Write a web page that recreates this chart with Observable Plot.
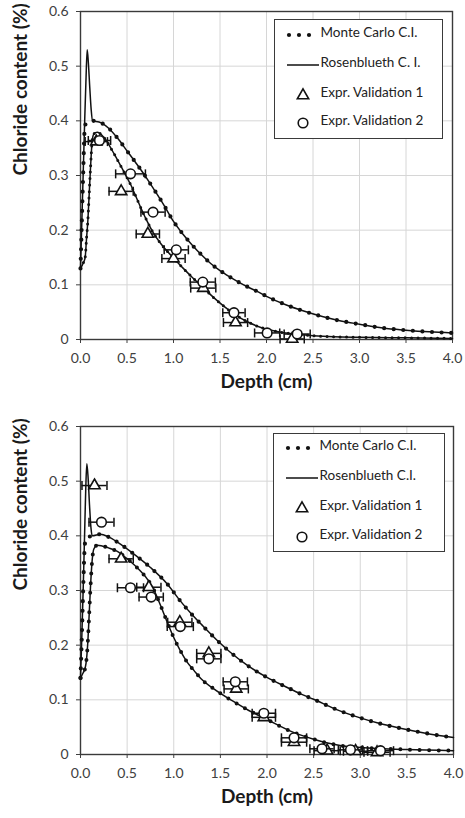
<!DOCTYPE html>
<html>
<head>
<meta charset="utf-8">
<script src="https://cdn.jsdelivr.net/npm/d3@7"></script>
<script src="https://cdn.jsdelivr.net/npm/@observablehq/plot@0.6"></script>
<style>
html,body{margin:0;padding:0;background:#fff;}
body{width:465px;height:818px;overflow:hidden;font-family:Lato,sans-serif;}
.panel{position:relative;width:465px;height:409px;}
.panel svg.plot{display:block;}
.legend{position:absolute;border:1.5px solid #3a3a3a;background:#fff;box-sizing:border-box;}
.row{position:absolute;left:0;height:22px;width:100%;}
.row svg{position:absolute;left:0;top:0;}
.row span{position:absolute;top:0;line-height:22px;font:13.5px Lato,sans-serif;color:#222;white-space:nowrap;}
</style>
</head>
<body>
<div id="a" class="panel"></div>
<div id="b" class="panel"></div>
<script>
// ---- axes ----
const xTicks = [0, 0.5, 1, 1.5, 2, 2.5, 3, 3.5, 4];
const yTicks = [0, 0.1, 0.2, 0.3, 0.4, 0.5, 0.6];
const xTitle = "Depth (cm)";
const yTitle = "Chloride content (%)";
const labelsA = ["Monte Carlo C.I.", "Rosenblueth C. I.", "Expr. Validation 1", "Expr. Validation 2"];
const labelsB = ["Monte Carlo C.I.", "Rosenblueth C.I.", "Expr. Validation 1", "Expr. Validation 2"];

// ---- panel A (top): confidence bounds [depth, chloride] ----
const aRiseMC  = [[0,0.13],[0.015,0.22],[0.03,0.31],[0.045,0.385],[0.06,0.396],[0.09,0.398]];
const aRiseRos = [[0,0.13],[0.015,0.22],[0.03,0.31],[0.045,0.40],[0.058,0.47],[0.072,0.53],[0.085,0.505],[0.1,0.46],[0.115,0.42]];
const aUpperTail = [[0.13,0.40],[0.2,0.398],[0.3,0.387],[0.4,0.368],[0.5,0.345],[0.6,0.322],[0.7,0.298],[0.8,0.272],[0.9,0.245],[1.0,0.216],[1.1,0.193],[1.2,0.173],[1.3,0.155],[1.4,0.139],[1.5,0.126],[1.6,0.115],[1.7,0.105],[1.8,0.096],[1.9,0.088],[2.0,0.079],[2.2,0.064],[2.4,0.052],[2.6,0.042],[2.8,0.034],[3.0,0.028],[3.25,0.021],[3.5,0.017],[3.75,0.014],[4.0,0.012]];
const aLower = [[0,0.13],[0.03,0.14],[0.05,0.15],[0.065,0.185],[0.08,0.22],[0.09,0.254],[0.108,0.315],[0.125,0.362],[0.143,0.376],[0.18,0.379],[0.25,0.37],[0.36,0.34],[0.45,0.312],[0.54,0.283],[0.62,0.252],[0.7,0.222],[0.78,0.196],[0.86,0.176],[0.94,0.16],[1.0,0.149],[1.1,0.131],[1.2,0.114],[1.32,0.095],[1.43,0.077],[1.54,0.061],[1.65,0.047],[1.8,0.032],[1.94,0.022],[2.1,0.015],[2.29,0.01],[2.5,0.007],[2.72,0.005],[3.0,0.004],[3.5,0.003],[4.0,0.002]];
// experiments
const aExp1X = [0.17, 0.437, 0.724, 1.0, 1.32, 1.667, 2.276];
const aExp1Y = [0.362, 0.271, 0.193, 0.148, 0.094, 0.031, 0.001];
const aExp1E = [0.12, 0.13, 0.125, 0.125, 0.135, 0.13, 0.13];
const aExp2X = [0.204, 0.538, 0.78, 1.03, 1.315, 1.65, 2.007, 2.33];
const aExp2Y = [0.364, 0.303, 0.233, 0.164, 0.105, 0.049, 0.012, 0.010];
const aExp2E = [0.12, 0.16, 0.13, 0.13, 0.135, 0.12, 0.135, 0.14];

// ---- panel B (bottom) ----
const bRiseMC  = [[0,0.14],[0.015,0.22],[0.03,0.31],[0.045,0.38],[0.055,0.394],[0.09,0.398]];
const bRiseRos = [[0,0.14],[0.015,0.22],[0.03,0.31],[0.045,0.41],[0.057,0.49],[0.068,0.532],[0.082,0.505],[0.097,0.455],[0.112,0.415]];
const bUpperTail = [[0.125,0.40],[0.215,0.403],[0.3,0.398],[0.4,0.388],[0.57,0.367],[0.75,0.342],[0.93,0.312],[1.07,0.281],[1.2,0.255],[1.29,0.239],[1.47,0.208],[1.6,0.188],[1.79,0.163],[2.0,0.141],[2.2,0.124],[2.36,0.111],[2.5,0.101],[2.72,0.084],[3.0,0.067],[3.2,0.057],[3.43,0.048],[3.7,0.039],[4.0,0.031]];
const bLower = [[0,0.14],[0.03,0.15],[0.05,0.158],[0.065,0.175],[0.08,0.21],[0.09,0.245],[0.107,0.306],[0.125,0.355],[0.143,0.376],[0.18,0.383],[0.3,0.378],[0.39,0.372],[0.5,0.358],[0.64,0.336],[0.72,0.32],[0.79,0.30],[0.86,0.272],[0.93,0.242],[1.0,0.214],[1.07,0.19],[1.14,0.17],[1.22,0.153],[1.29,0.139],[1.43,0.12],[1.64,0.097],[1.8,0.081],[2.0,0.064],[2.29,0.04],[2.5,0.028],[2.65,0.021],[2.8,0.016],[3.0,0.013],[3.5,0.009],[4.0,0.007]];
const bExp1X = [0.15, 0.436, 0.733, 1.065, 1.376, 1.67, 1.966, 2.29, 2.645, 2.95, 3.18];
const bExp1Y = [0.492, 0.358, 0.306, 0.242, 0.185, 0.12, 0.068, 0.0225, 0.007, 0.006, 0.004];
const bExp1E = [0.134, 0.13, 0.13, 0.13, 0.13, 0.13, 0.125, 0.135, 0.14, 0.13, 0.14];
const bExp2X = [0.225, 0.536, 0.758, 1.07, 1.376, 1.66, 1.966, 2.29, 2.59, 2.895, 3.217];
const bExp2Y = [0.425, 0.305, 0.288, 0.234, 0.175, 0.133, 0.0755, 0.0305, 0.0104, 0.0085, 0.007];
const bExp2E = [0.134, 0.14, 0.13, 0.14, 0.13, 0.13, 0.125, 0.135, 0.13, 0.13, 0.14];

const INK = "#111";
const zip = (xs, ys, es) => xs.map((x, i) => ({x, y: ys[i], e: es[i]}));
const capSymbol = {draw(ctx, size) { const r = Math.sqrt(size / Math.PI); ctx.moveTo(0, -r); ctx.lineTo(0, r); }};

function errMarks(data, symbol, r) {
  return [
    Plot.ruleY(data, {y: "y", x1: d => d.x - d.e, x2: d => d.x + d.e, stroke: INK, strokeWidth: 1.5}),
    Plot.dot(data, {x: d => d.x - d.e, y: "y", symbol: capSymbol, r: 4.5, stroke: INK, strokeWidth: 1.5, fill: "none"}),
    Plot.dot(data, {x: d => d.x + d.e, y: "y", symbol: capSymbol, r: 4.5, stroke: INK, strokeWidth: 1.5, fill: "none"}),
    Plot.dot(data, {x: "x", y: "y", symbol, r, fill: "white", stroke: INK, strokeWidth: 1.6})
  ];
}

function panel(el, cfg) {
  const upperMC = cfg.riseMC.concat(cfg.upperTail);
  const upperRos = cfg.riseRos.concat(cfg.upperTail);
  const X = d => d[0], Y = d => d[1];
  const svg = Plot.plot({
    width: 465, height: 409,
    marginLeft: 80, marginRight: cfg.mr, marginTop: cfg.mt, marginBottom: cfg.mb,
    style: {fontFamily: "Lato, sans-serif", fontSize: "14px", color: "#404040", background: "white"},
    x: {domain: [0, 4]},
    y: {domain: [0, 0.6]},
    marks: [
      Plot.gridX({ticks: xTicks, stroke: "#d6d6d6", strokeOpacity: 1, strokeWidth: 1}),
      Plot.gridY({ticks: yTicks, stroke: "#d6d6d6", strokeOpacity: 1, strokeWidth: 1}),
      Plot.axisX({ticks: xTicks, tickSize: 4, tickPadding: 10, label: null, tickFormat: d => d.toFixed(1), fontSize: 14}),
      Plot.axisY({ticks: yTicks, tickSize: 4, tickPadding: 8, label: null, tickFormat: d => d === 0 ? "0" : d.toFixed(1), fontSize: 14}),
      Plot.frame({stroke: "#3a3a3a", strokeWidth: 1.4}),
      // Rosenblueth (solid)
      Plot.line(upperRos, {x: X, y: Y, curve: "monotone-x", stroke: INK, strokeWidth: 1.5}),
      Plot.line(cfg.lower, {x: X, y: Y, curve: "monotone-x", stroke: INK, strokeWidth: 1.5}),
      // Monte Carlo (dots)
      Plot.line(upperMC, {x: X, y: Y, curve: "monotone-x", stroke: INK, strokeWidth: 4.2, strokeLinecap: "round", strokeDasharray: "0,9.6"}),
      Plot.line(cfg.lower, {x: X, y: Y, curve: "monotone-x", stroke: INK, strokeWidth: cfg.lowDot, strokeLinecap: "round", strokeDasharray: cfg.lowDash}),
      ...errMarks(cfg.exp1, "triangle", 4.2),
      ...errMarks(cfg.exp2, "circle", 4.8),
      Plot.text([xTitle], {frameAnchor: "bottom", dy: 48, fontWeight: "bold", fontSize: 19, fill: "#1a1a1a"}),
      Plot.text([yTitle], {frameAnchor: "left", dx: -60, rotate: -90, fontWeight: "bold", fontSize: 19, fill: "#1a1a1a"})
    ]
  });
  svg.classList.add("plot");
  el.appendChild(svg);

  // legend
  const lg = document.createElement("div");
  lg.className = "legend";
  Object.assign(lg.style, {left: cfg.lg.left + "px", top: cfg.lg.top + "px", width: cfg.lg.w + "px", height: cfg.lg.h + "px"});
  cfg.labels.forEach((lab, i) => {
    const row = document.createElement("div");
    row.className = "row";
    row.style.top = (cfg.lg.rows[i] - 11 - 1.5) + "px";
    const s = d3.create("svg").attr("width", 46).attr("height", 22);
    if (i === 0) {
      [14, 24, 34].forEach(cx => s.append("circle").attr("cx", cx).attr("cy", 11).attr("r", 2.1).attr("fill", INK));
    } else if (i === 1) {
      s.append("line").attr("x1", 12).attr("x2", 44).attr("y1", 11).attr("y2", 11).attr("stroke", INK).attr("stroke-width", 1.5);
    } else if (i === 2) {
      s.append("path").attr("d", d3.symbol(d3.symbolTriangle, Math.PI * 4.2 * 4.2)()).attr("transform", "translate(28,11.5)")
        .attr("fill", "white").attr("stroke", INK).attr("stroke-width", 1.6);
    } else {
      s.append("circle").attr("cx", 28).attr("cy", 11).attr("r", 4.8).attr("fill", "white").attr("stroke", INK).attr("stroke-width", 1.6);
    }
    row.appendChild(s.node());
    const sp = document.createElement("span");
    sp.style.left = "45.5px";
    sp.textContent = lab;
    row.appendChild(sp);
    lg.appendChild(row);
  });
  el.appendChild(lg);
}

panel(document.getElementById("a"), {
  mt: 11, mb: 70, mr: 13,
  riseMC: aRiseMC, riseRos: aRiseRos, upperTail: aUpperTail, lower: aLower,
  lowDot: 3.0, lowDash: "0,6.5",
  exp1: zip(aExp1X, aExp1Y, aExp1E), exp2: zip(aExp2X, aExp2Y, aExp2E),
  labels: labelsA,
  lg: {left: 274, top: 19, w: 169, h: 120, rows: [16, 46, 76, 104.5]}
});
panel(document.getElementById("b"), {
  mt: 17, mb: 64, mr: 12,
  riseMC: bRiseMC, riseRos: bRiseRos, upperTail: bUpperTail, lower: bLower,
  lowDot: 4.0, lowDash: "0,9.6",
  exp1: zip(bExp1X, bExp1Y, bExp1E), exp2: zip(bExp2X, bExp2Y, bExp2E),
  labels: labelsB,
  lg: {left: 273, top: 24, w: 172, h: 119, rows: [15.5, 45.5, 75, 104]}
});
</script>
</body>
</html>
